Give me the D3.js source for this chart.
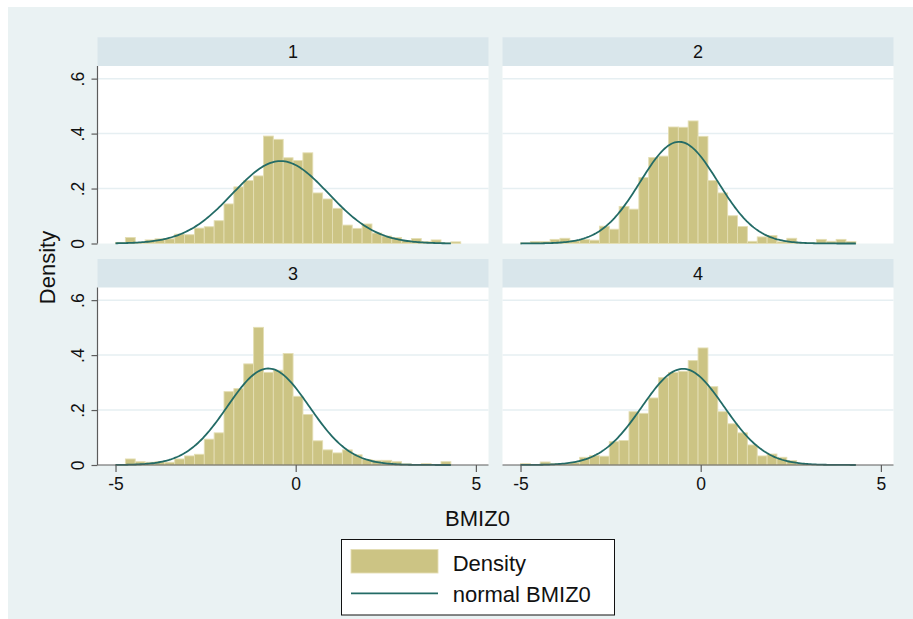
<!DOCTYPE html>
<html>
<head>
<meta charset="utf-8">
<script src="https://cdn.jsdelivr.net/npm/d3@7"></script>
<style>
  html, body { margin: 0; padding: 0; background: #ffffff; }
  svg { display: block; font-family: "Liberation Sans", Arial, Helvetica, sans-serif; }
</style>
</head>
<body>
<svg id="chart" width="913" height="619"></svg>
<script>
// Histogram bins shared by all panels
const binStart = -5.0;
const binWidth = 0.2737;

const panelLabels = ["1", "2", "3", "4"];

// Bar densities per group
const density1 = [0.004, 0.022, 0.004, 0.013, 0.017, 0.017, 0.034, 0.032, 0.056, 0.061,
                  0.083, 0.144, 0.206, 0.229, 0.246, 0.391, 0.379, 0.312, 0.302, 0.330,
                  0.184, 0.162, 0.128, 0.067, 0.055, 0.071, 0.038, 0.027, 0.022, 0.010,
                  0.018, 0.007, 0.013, 0.002, 0.006];
const density2 = [0.002, 0.007, 0.007, 0.015, 0.019, 0.010, 0.015, 0.012, 0.063, 0.052,
                  0.135, 0.125, 0.240, 0.313, 0.318, 0.424, 0.423, 0.446, 0.390, 0.229,
                  0.184, 0.101, 0.062, 0.008, 0.024, 0.029, 0.006, 0.019, 0.002, 0.002,
                  0.015, 0.008, 0.015, 0.007];
const density3 = [0.001, 0.022, 0.012, 0.010, 0.012, 0.010, 0.022, 0.033, 0.039, 0.094,
                  0.117, 0.267, 0.278, 0.368, 0.501, 0.337, 0.345, 0.406, 0.250, 0.184,
                  0.088, 0.055, 0.044, 0.055, 0.037, 0.020, 0.017, 0.017, 0.012, 0.004,
                  0.001, 0.005, 0.000, 0.012];
const density4 = [0.005, 0.000, 0.011, 0.005, 0.004, 0.009, 0.028, 0.034, 0.032, 0.085,
                  0.089, 0.194, 0.188, 0.244, 0.318, 0.337, 0.341, 0.380, 0.426, 0.285,
                  0.194, 0.150, 0.117, 0.073, 0.033, 0.040, 0.028, 0.016, 0.006, 0.002,
                  0.001, 0.001, 0.000, 0.001];

// Fitted normal parameters per group
const normalMean = [-0.42, -0.60, -0.76, -0.49];
const normalSd   = [1.33, 1.078, 1.136, 1.14];
const curveRange = [-5.0, 4.306];

const yTicks = [0, 0.2, 0.4, 0.6];
const yTickLabels = ["0", ".2", ".4", ".6"];
const xTicks = [-5, 0, 5];
const xTickLabels = ["-5", "0", "5"];

const yTitle = "Density";
const xTitle = "BMIZ0";
const legendLabels = ["Density", "normal BMIZ0"];

// ---------- drawing ----------
const densities = [density1, density2, density3, density4];
const svg = d3.select("#chart");

const colors = {
  bg: "#eaf2f3",
  strip: "#d9e6eb",
  grid: "#e6eff2",
  axis: "#5c5c5c",
  barFill: "#ccc484",
  barStroke: "#e4deb4",
  curve: "#236b66"
};
const tickFont = 17.5;

svg.append("rect").attr("x", 8).attr("y", 7).attr("width", 905).attr("height", 612)
  .attr("fill", colors.bg);

const plotW = 391, plotH = 177.5, stripH = 29;
const cols = [97.5, 502.5];
const rows = [{ strip: 37.3, plotTop: 66 }, { strip: 259, plotTop: 287.5 }];

const x = d3.scaleLinear().domain([-5.5, 5.35]).range([0, plotW]);
const y = d3.scaleLinear().domain([0, 0.646]).range([plotH, 0]);

const normal = (v, m, s) => Math.exp(-0.5 * ((v - m) / s) ** 2) / (s * Math.sqrt(2 * Math.PI));

densities.forEach((dens, i) => {
  const c = i % 2, r = Math.floor(i / 2);
  const px = cols[c], row = rows[r];

  // strip with group label
  svg.append("rect").attr("x", px).attr("y", row.strip).attr("width", plotW).attr("height", stripH)
    .attr("fill", colors.strip);
  svg.append("text").attr("x", px + plotW / 2).attr("y", row.strip + 20.5)
    .attr("text-anchor", "middle").attr("font-size", 18).attr("fill", "#111")
    .text(panelLabels[i]);

  const g = svg.append("g").attr("transform", `translate(${px},${row.plotTop})`);
  g.append("rect").attr("width", plotW).attr("height", plotH).attr("fill", "#ffffff");

  // horizontal grid
  g.selectAll("line.grid").data(yTicks.filter(t => t > 0)).join("line")
    .attr("x1", 0).attr("x2", plotW)
    .attr("y1", d => y(d)).attr("y2", d => y(d))
    .attr("stroke", colors.grid).attr("stroke-width", 1.5);

  // bars
  g.selectAll("rect.bar").data(dens).join("rect")
    .attr("x", (d, k) => x(binStart + k * binWidth))
    .attr("width", (d, k) => x(binStart + (k + 1) * binWidth) - x(binStart + k * binWidth))
    .attr("y", d => y(d))
    .attr("height", d => y(0) - y(d))
    .attr("fill", colors.barFill)
    .attr("stroke", colors.barStroke).attr("stroke-width", 0.9);

  // normal curve
  const pts = d3.range(0, 201).map(k => curveRange[0] + (curveRange[1] - curveRange[0]) * k / 200);
  g.append("path")
    .datum(pts)
    .attr("fill", "none").attr("stroke", colors.curve).attr("stroke-width", 1.8)
    .attr("d", d3.line().x(v => x(v)).y(v => y(normal(v, normalMean[i], normalSd[i]))));

  // y axis on left column
  if (c === 0) {
    const ya = g.append("g").call(d3.axisLeft(y).tickValues(yTicks).tickFormat((d, k) => yTickLabels[k])
      .tickSize(6).tickPadding(0));
    ya.select(".domain").attr("stroke", colors.axis).attr("stroke-width", 1.2)
      .attr("d", `M0,${plotH}V0`);
    ya.selectAll(".tick line").attr("stroke", colors.axis).attr("stroke-width", 1.2);
    ya.selectAll(".tick text")
      .attr("font-size", tickFont).attr("fill", "#111")
      .attr("font-family", "Liberation Sans, Arial, sans-serif")
      .attr("text-anchor", "middle")
      .attr("x", null).attr("dy", null)
      .attr("transform", "translate(-14,0) rotate(-90)")
      .attr("y", 0);
  }

  // x axis on bottom row
  if (r === 1) {
    const xa = g.append("g").attr("transform", `translate(0,${plotH})`)
      .call(d3.axisBottom(x).tickValues(xTicks).tickFormat((d, k) => xTickLabels[k])
        .tickSize(7).tickPadding(6));
    xa.select(".domain").attr("stroke", colors.axis).attr("stroke-width", 1.2)
      .attr("d", `M0,0H${plotW}`);
    xa.selectAll(".tick line").attr("stroke", colors.axis).attr("stroke-width", 1.2);
    xa.selectAll(".tick text").attr("font-size", tickFont).attr("fill", "#111")
      .attr("font-family", "Liberation Sans, Arial, sans-serif");
  }
});

// axis titles
svg.append("text").attr("transform", "translate(55,267.5) rotate(-90)")
  .attr("text-anchor", "middle").attr("font-size", 22).attr("fill", "#111").text(yTitle);
svg.append("text").attr("x", 477.5).attr("y", 526)
  .attr("text-anchor", "middle").attr("font-size", 22).attr("fill", "#111").text(xTitle);

// legend
const lg = svg.append("g");
lg.append("rect").attr("x", 341.5).attr("y", 539.5).attr("width", 273).attr("height", 75.5)
  .attr("fill", "#ffffff").attr("stroke", "#111").attr("stroke-width", 1);
lg.append("rect").attr("x", 351).attr("y", 549.5).attr("width", 87).attr("height", 23.5)
  .attr("fill", colors.barFill).attr("stroke", colors.barStroke).attr("stroke-width", 0.9);
lg.append("line").attr("x1", 351).attr("x2", 438).attr("y1", 593.3).attr("y2", 593.3)
  .attr("stroke", colors.curve).attr("stroke-width", 1.8);
lg.selectAll("text").data(legendLabels).join("text")
  .attr("x", 452.7).attr("y", (d, k) => 570.7 + k * 31)
  .attr("font-size", 22).attr("fill", "#111").text(d => d);
</script>
</body>
</html>
